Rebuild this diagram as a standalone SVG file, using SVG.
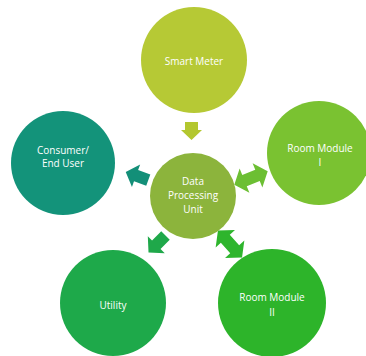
<svg xmlns="http://www.w3.org/2000/svg" width="366" height="356" viewBox="0 0 366 356">
<style>
text{font-family:"Open Sans","Noto Sans","DejaVu Sans",sans-serif;font-size:10px;fill:#ffffff;text-anchor:middle}
</style>
<defs>
<polygon id="single" points="-12,-6 1,-6 1,-12 12,0 1,12 1,6 -12,6"/>
<polygon id="double" points="-18,0 -7,-13 -7,-6 7,-6 7,-13 18,0 7,13 7,6 -7,6 -7,13"/>
</defs>
<rect width="366" height="356" fill="#ffffff"/>
<g id="connectors">
<polygon points="185,122 198,122 198,130 202,130 191.5,140 181,130 185,130" fill="#b3c72f"/>
<use href="#single" transform="translate(137,176) rotate(200)" fill="#138f78"/>
<use href="#single" transform="translate(157,244) rotate(135)" fill="#1fa84a"/>
<use href="#double" transform="translate(251,178) rotate(-22)" fill="#6cbf33"/>
<use href="#double" transform="translate(230,244) rotate(48)" fill="#2eb52d"/>
</g>
<g id="smart-meter">
<circle cx="194" cy="60" r="53" fill="#b6c935"/>
<text x="194" y="65">Smart Meter</text>
</g>
<g id="consumer">
<circle cx="63" cy="163" r="52" fill="#13937a"/>
<text x="63" y="154">Consumer/</text>
<text x="63" y="167">End User</text>
</g>
<g id="dpu">
<circle cx="193" cy="196" r="43" fill="#8cb43c"/>
<text x="193" y="185">Data</text>
<text x="193" y="199">Processing</text>
<text x="193" y="213">Unit</text>
</g>
<g id="room-module-1">
<circle cx="319" cy="153" r="52" fill="#7ac231"/>
<text x="320" y="152">Room Module</text>
<text x="320" y="166">I</text>
</g>
<g id="utility">
<circle cx="113" cy="303" r="53" fill="#1ea94a"/>
<text x="113" y="309">Utility</text>
</g>
<g id="room-module-2">
<circle cx="272" cy="303" r="54" fill="#2db42a"/>
<text x="272" y="301">Room Module</text>
<text x="272" y="316">II</text>
</g>
</svg>
